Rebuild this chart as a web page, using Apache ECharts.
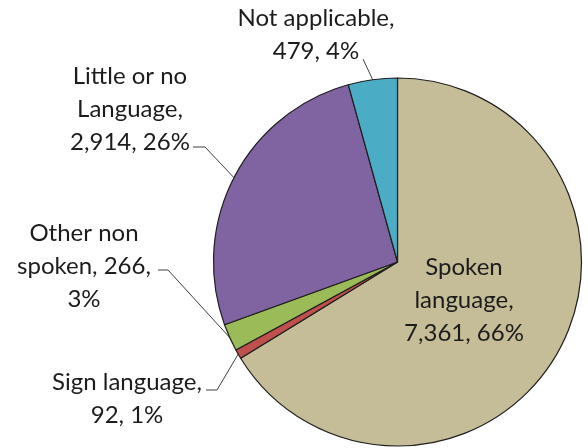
<!DOCTYPE html>
<html>
<head>
<meta charset="utf-8">
<title>Language use</title>
<script src="https://cdn.jsdelivr.net/npm/echarts@6/dist/echarts.min.js"></script>
<style>
  html, body { margin: 0; padding: 0; background: #ffffff; }
  #chart { width: 588px; height: 448px; }
</style>
</head>
<body>
<div id="chart"></div>
<script>
// Categories and counts, in clockwise order from 12 o'clock
const categories = ['Spoken language', 'Sign language', 'Other non spoken', 'Little or no Language', 'Not applicable'];
const counts = [7361, 92, 266, 2914, 479];
const colors = ['#C4BD97', '#C0504D', '#9BBB59', '#8064A2', '#4BACC6'];

// Words per line for each wrapped label
const wrapPlan = [[1, 1, 2], [2, 2], [2, 2, 1], [3, 1, 2], [2, 2]];

// Where each label block sits, and the short horizontal tick of its leader line
const labelSpots = [
  { x: 464, y: 300 },
  { x: 127, y: 399, tick: [[217, 390], [206, 390]] },
  { x: 84,  y: 266, tick: [[168, 270], [158, 270]] },
  { x: 130, y: 109, tick: [[205, 147], [193, 147]] },
  { x: 316, y: 35,  tick: [[363, 59], [363, 59]] }
];

function fmt(n) {
  return n.toLocaleString('en-US');
}

function wrapText(words, plan) {
  const lines = [];
  let i = 0;
  plan.forEach(function (k) {
    lines.push(words.slice(i, i + k).join(' '));
    i += k;
  });
  return lines.join('\n');
}

const chart = echarts.init(document.getElementById('chart'), null, { renderer: 'canvas' });

chart.setOption({
  backgroundColor: '#ffffff',
  animation: false,
  series: [{
    type: 'pie',
    center: [397.5, 262],
    radius: 184,
    startAngle: 90,
    clockwise: true,
    percentPrecision: 0,
    avoidLabelOverlap: false,
    itemStyle: { borderColor: '#1e1e1e', borderWidth: 1.2 },
    label: {
      show: true,
      position: 'outside',
      fontFamily: 'Lato, "Open Sans", sans-serif',
      fontSize: 24,
      lineHeight: 33,
      color: '#1c1c1c',
      align: 'center',
      formatter: function (p) {
        const words = (p.name + ', ' + fmt(p.value) + ', ' + p.percent + '%').split(' ');
        return wrapText(words, wrapPlan[p.dataIndex]);
      }
    },
    labelLine: {
      show: true,
      length: 10,
      length2: 10,
      lineStyle: { color: '#404040', width: 1 }
    },
    labelLayout: function (params) {
      const spot = labelSpots[params.dataIndex];
      const out = { x: spot.x, y: spot.y, align: 'center', verticalAlign: 'middle' };
      if (spot.tick && params.labelLinePoints) {
        out.labelLinePoints = [params.labelLinePoints[0], spot.tick[0], spot.tick[1]];
      }
      return out;
    },
    data: categories.map(function (name, i) {
      const item = { name: name, value: counts[i], itemStyle: { color: colors[i] } };
      if (i === 0) {
        item.labelLine = { show: false };
      }
      return item;
    })
  }]
});
</script>
</body>
</html>
